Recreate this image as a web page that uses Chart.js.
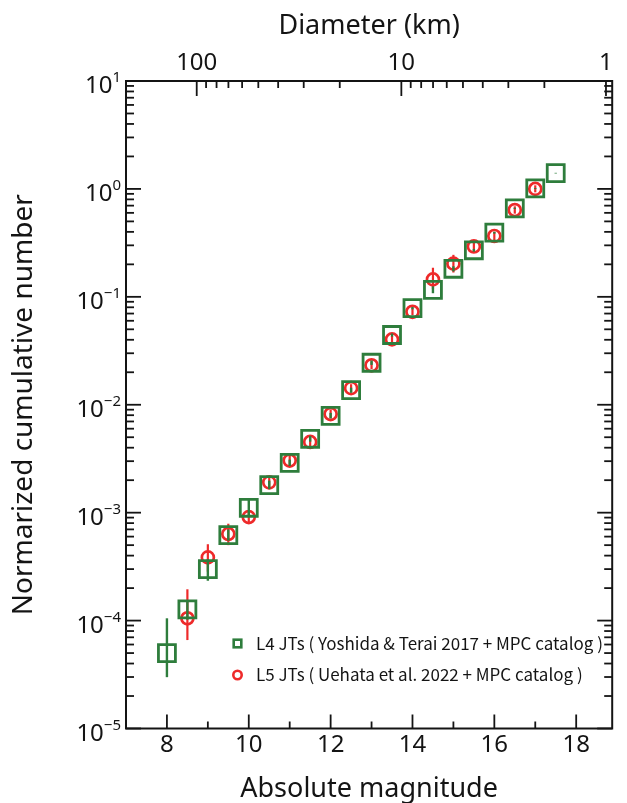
<!DOCTYPE html>
<html>
<head>
<meta charset="utf-8">
<title>Jupiter Trojans cumulative H distribution</title>
<script src="https://cdn.jsdelivr.net/npm/chart.js@4.4.1/dist/chart.umd.min.js"></script>
<style>
  html, body { margin: 0; padding: 0; background: #fff; }
  #wrap { width: 627px; height: 803px; }
</style>
</head>
<body>
<div id="wrap"><canvas id="cnv" width="627" height="803"></canvas></div>
<script>
// absolute magnitude bins
const l4H = [8, 8.5, 9, 9.5, 10, 10.5, 11, 11.5, 12, 12.5, 13, 13.5, 14, 14.5, 15, 15.5, 16, 16.5, 17, 17.5];
const l4N = [5.0e-5, 1.27e-4, 3.0e-4, 6.2e-4, 1.11e-3, 1.8e-3, 2.89e-3, 4.84e-3, 7.9e-3, 0.01365, 0.0245, 0.0443, 0.0785, 0.116, 0.182, 0.27, 0.393, 0.66, 1.01, 1.40];
const l4Lo = [2.99e-5, 1.02e-4, 2.34e-4, 5.5e-4, 9.2e-4, 1.65e-3, 2.7e-3, 4.55e-3, 7.45e-3, 0.0129, 0.0234, 0.0428, 0.0765, 0.108, 0.172, 0.262, 0.385, 0.652, 1.0, 1.39];
const l4Hi = [1.05e-4, 1.55e-4, 3.7e-4, 7.0e-4, 1.35e-3, 1.98e-3, 3.1e-3, 5.15e-3, 8.4e-3, 0.0144, 0.0257, 0.0458, 0.0805, 0.125, 0.192, 0.278, 0.401, 0.668, 1.02, 1.41];

const l5H = [8.5, 9, 9.5, 10, 10.5, 11, 11.5, 12, 12.5, 13, 13.5, 14, 14.5, 15, 15.5, 16, 16.5, 17];
const l5N = [1.05e-4, 3.85e-4, 6.35e-4, 9.1e-4, 1.91e-3, 3.04e-3, 4.52e-3, 8.2e-3, 0.01425, 0.0232, 0.0403, 0.0727, 0.145, 0.203, 0.293, 0.366, 0.637, 1.0];
const l5Lo = [6.6e-5, 2.84e-4, 5.0e-4, 8.1e-4, 1.72e-3, 2.75e-3, 4.1e-3, 7.5e-3, 0.0131, 0.0214, 0.0372, 0.0675, 0.118, 0.168, 0.262, 0.335, 0.59, 0.93];
const l5Hi = [1.95e-4, 5.1e-4, 7.9e-4, 1.02e-3, 2.12e-3, 3.35e-3, 5.0e-3, 9.0e-3, 0.0155, 0.0252, 0.0437, 0.0785, 0.186, 0.245, 0.327, 0.40, 0.69, 1.08];

const legendText = [
  'L4 JTs ( Yoshida & Terai 2017 + MPC catalog )',
  'L5 JTs ( Uehata et al. 2022 + MPC catalog )'
];

// axis ticks
const hMajor = [8, 10, 12, 14, 16, 18];
const hMinor = [9, 11, 13, 15, 17];
const yExp = [-5, -4, -3, -2, -1, 0, 1];
const diamMajor = [100, 10, 1];
const diamMinor = [90, 80, 70, 60, 50, 40, 30, 20, 9, 8, 7, 6, 5, 4, 3, 2];
const ALBEDO = 0.057;

const GREEN = '#2e7d3c';
const RED = '#ee2a2a';
const INK = '#141414';
const FONT = '"Noto Sans", sans-serif';
const LEG_FONT = '"Noto Sans CJK JP", "Noto Sans", sans-serif';

// H value where an asteroid of diameter d (km) sits
function hOfDiam(d) {
  return 5 * Math.log10(1329 / Math.sqrt(ALBEDO) / d);
}

const l4Pts = l4H.map((h, i) => ({ x: h, y: l4N[i] }));
const l5Pts = l5H.map((h, i) => ({ x: h, y: l5N[i] }));
const errLo = [l4Lo, l5Lo];
const errHi = [l4Hi, l5Hi];
const errX = [l4H, l5H];

// vertical error bars, painted just before each dataset's markers
const errorBars = {
  id: 'errorBars',
  beforeDatasetDraw(chart, args) {
    const i = args.index;
    const ds = chart.data.datasets[i];
    const xs = chart.scales.x, ys = chart.scales.y;
    const ctx = chart.ctx;
    ctx.save();
    ctx.strokeStyle = ds.borderColor;
    ctx.lineWidth = i === 0 ? 2.4 : 2.2;
    errX[i].forEach((h, k) => {
      const px = xs.getPixelForValue(h);
      ctx.beginPath();
      ctx.moveTo(px, ys.getPixelForValue(errLo[i][k]));
      ctx.lineTo(px, ys.getPixelForValue(errHi[i][k]));
      ctx.stroke();
    });
    ctx.restore();
  }
};

function sup(ctx, base, exp, xRight, yMid) {
  // "10" with a raised exponent, right edge at xRight
  ctx.font = '24px ' + FONT;
  const wb = ctx.measureText(base).width;
  ctx.font = '15px ' + FONT;
  const we = ctx.measureText(exp).width;
  ctx.textBaseline = 'alphabetic';
  ctx.textAlign = 'left';
  ctx.font = '24px ' + FONT;
  ctx.fillText(base, xRight - we - wb, yMid + 12);
  ctx.font = '15px ' + FONT;
  ctx.fillText(exp, xRight - we, yMid + 1);
}

// frame, inward ticks, labels and legend
const frame = {
  id: 'frame',
  afterDraw(chart) {
    const ctx = chart.ctx;
    const a = chart.chartArea;
    const xs = chart.scales.x, ys = chart.scales.y;
    ctx.save();
    ctx.strokeStyle = INK;
    ctx.fillStyle = INK;
    ctx.lineWidth = 2;
    ctx.strokeRect(a.left, a.top, a.right - a.left, a.bottom - a.top);

    ctx.lineWidth = 1.8;
    const tick = (x1, y1, x2, y2) => { ctx.beginPath(); ctx.moveTo(x1, y1); ctx.lineTo(x2, y2); ctx.stroke(); };

    // bottom axis
    hMajor.forEach(h => { const p = xs.getPixelForValue(h); tick(p, a.bottom, p, a.bottom - 14); });
    hMinor.forEach(h => { const p = xs.getPixelForValue(h); tick(p, a.bottom, p, a.bottom - 7); });
    ctx.font = '24px ' + FONT;
    ctx.textAlign = 'center';
    ctx.textBaseline = 'alphabetic';
    hMajor.forEach(h => ctx.fillText(String(h), xs.getPixelForValue(h), a.bottom + 23));

    // top axis: diameter
    diamMajor.forEach(d => { const p = xs.getPixelForValue(hOfDiam(d)); tick(p, a.top, p, a.top + 15); });
    diamMinor.forEach(d => { const p = xs.getPixelForValue(hOfDiam(d)); tick(p, a.top, p, a.top + 7); });
    diamMajor.forEach(d => ctx.fillText(String(d), xs.getPixelForValue(hOfDiam(d)), a.top - 11));

    // left and right: log ticks
    yExp.forEach(e => {
      const p = ys.getPixelForValue(Math.pow(10, e));
      tick(a.left, p, a.left + 15, p);
      tick(a.right, p, a.right - 15, p);
      if (e < 1) {
        for (let m = 2; m <= 9; m++) {
          const q = ys.getPixelForValue(m * Math.pow(10, e));
          tick(a.left, q, a.left + 8, q);
          tick(a.right, q, a.right - 8, q);
        }
      }
      sup(ctx, '10', e < 0 ? '\u2212' + (-e) : String(e), a.left - 5, p);
    });

    // axis titles
    ctx.textAlign = 'center';
    ctx.textBaseline = 'alphabetic';
    ctx.font = '27px ' + FONT;
    ctx.fillText('Diameter (km)', (a.left + a.right) / 2, 34);
    ctx.fillText('Absolute magnitude', (a.left + a.right) / 2, 797);
    ctx.save();
    ctx.translate(32, (a.top + a.bottom) / 2);
    ctx.rotate(-Math.PI / 2);
    ctx.font = '28px ' + FONT;
    ctx.fillText('Normarized cumulative number', 0, 0);
    ctx.restore();

    // legend
    const lx = 237.5, ly = [643.5, 675];
    ctx.lineWidth = 2.6;
    ctx.strokeStyle = GREEN;
    ctx.strokeRect(lx - 3.8, ly[0] - 3.8, 7.6, 7.6);
    ctx.strokeStyle = RED;
    ctx.beginPath();
    ctx.arc(lx, ly[1], 4.2, 0, Math.PI * 2);
    ctx.stroke();
    ctx.fillStyle = INK;
    ctx.font = '17px ' + LEG_FONT;
    ctx.textAlign = 'left';
    ctx.textBaseline = 'middle';
    legendText.forEach((t, i) => ctx.fillText(t, 256, ly[i]));
    ctx.restore();
  }
};

new Chart(document.getElementById('cnv'), {
  type: 'scatter',
  data: {
    datasets: [
      {
        label: legendText[0],
        data: l4Pts,
        pointStyle: 'rect',
        pointRadius: 12,
        borderWidth: 2.8,
        borderColor: GREEN,
        backgroundColor: 'rgba(0,0,0,0)'
      },
      {
        label: legendText[1],
        data: l5Pts,
        pointStyle: 'circle',
        pointRadius: 6,
        borderWidth: 2.7,
        borderColor: RED,
        backgroundColor: 'rgba(0,0,0,0)'
      }
    ]
  },
  options: {
    responsive: false,
    animation: false,
    events: [],
    layout: { padding: { left: 126, top: 81, right: 6.5, bottom: 74.5 } },
    scales: {
      x: { type: 'linear', min: 7, max: 18.88, display: false },
      y: { type: 'logarithmic', min: 1e-5, max: 10, display: false }
    },
    plugins: { legend: { display: false }, tooltip: { enabled: false } }
  },
  plugins: [errorBars, frame]
});
</script>
</body>
</html>
